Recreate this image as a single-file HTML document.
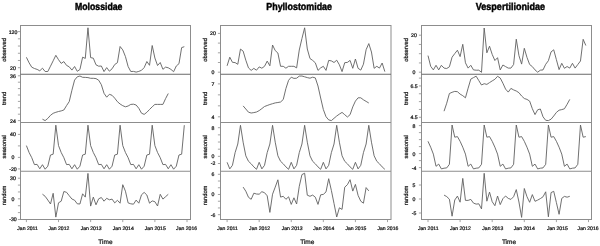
<!DOCTYPE html>
<html><head><meta charset="utf-8"><style>
html,body{margin:0;padding:0;background:#fff;}
svg{display:block;will-change:transform;}
text{font-family:"Liberation Sans", sans-serif;text-rendering:geometricPrecision;}
.s{stroke:#111;stroke-width:0.22px;}
</style></head><body>
<svg width="600" height="246" viewBox="0 0 600 246">
<rect width="600" height="246" fill="#fff"/>
<text x="75.0" y="10" font-weight="bold" font-size="10.2" stroke="#000" stroke-width="0.45" textLength="47.4" lengthAdjust="spacingAndGlyphs" fill="#000">Molossidae</text>
<polyline points="26.40,57.30 29.08,62.80 31.75,67.20 34.43,68.50 37.11,69.40 39.78,70.80 42.46,68.20 45.14,71.50 47.81,71.50 50.49,66.20 53.17,60.80 55.84,55.30 58.52,59.70 61.20,63.40 63.87,61.60 66.55,65.40 69.23,66.80 71.90,70.10 74.58,66.50 77.26,71.30 79.93,69.50 82.61,57.20 85.29,58.40 87.96,27.80 90.64,57.60 93.32,58.20 95.99,64.80 98.67,66.20 101.35,66.00 104.02,71.60 106.70,67.60 109.38,71.20 112.05,68.80 114.73,64.50 117.41,62.70 120.08,46.50 122.76,49.90 125.44,56.60 128.11,66.50 130.79,71.50 133.47,71.40 136.14,72.10 138.82,71.40 141.50,70.30 144.17,67.60 146.85,61.50 149.53,65.30 152.20,45.50 154.88,58.00 157.56,65.50 160.23,62.50 162.91,69.30 165.59,67.10 168.26,67.80 170.94,69.40 173.62,71.70 176.29,66.00 178.97,63.70 181.65,47.60 184.32,46.70" fill="none" stroke="#606060" stroke-width="0.9" stroke-linejoin="round"/>
<polyline points="42.46,119.20 45.14,120.60 47.81,118.40 50.49,115.30 53.17,113.30 55.84,112.30 58.52,111.50 61.20,110.90 63.87,110.00 66.55,105.60 69.23,101.60 71.90,90.30 74.58,80.10 77.26,76.80 79.93,76.00 82.61,77.30 85.29,77.40 87.96,77.60 90.64,78.30 93.32,78.30 95.99,78.60 98.67,80.20 101.35,84.70 104.02,93.30 106.70,97.20 109.38,94.30 112.05,95.30 114.73,98.20 117.41,101.70 120.08,104.00 122.76,105.70 125.44,106.80 128.11,106.00 130.79,104.40 133.47,104.20 136.14,105.00 138.82,108.30 141.50,113.20 144.17,114.40 146.85,112.30 149.53,109.50 152.20,106.80 154.88,104.40 157.56,104.40 160.23,104.40 162.91,104.40 165.59,98.60 168.26,93.50" fill="none" stroke="#606060" stroke-width="0.9" stroke-linejoin="round"/>
<polyline points="26.40,145.60 29.08,152.50 31.75,157.70 34.43,164.60 37.11,164.40 39.78,168.80 42.46,164.70 45.14,169.20 47.81,166.20 50.49,155.00 53.17,154.20 55.84,125.20 58.52,145.60 61.20,152.50 63.87,157.70 66.55,164.60 69.23,164.40 71.90,168.80 74.58,164.70 77.26,169.20 79.93,166.20 82.61,155.00 85.29,154.20 87.96,125.20 90.64,145.60 93.32,152.50 95.99,157.70 98.67,164.60 101.35,164.40 104.02,168.80 106.70,164.70 109.38,169.20 112.05,166.20 114.73,155.00 117.41,154.20 120.08,125.20 122.76,145.60 125.44,152.50 128.11,157.70 130.79,164.60 133.47,164.40 136.14,168.80 138.82,164.70 141.50,169.20 144.17,166.20 146.85,155.00 149.53,154.20 152.20,125.20 154.88,145.60 157.56,152.50 160.23,157.70 162.91,164.60 165.59,164.40 168.26,168.80 170.94,164.70 173.62,169.20 176.29,166.20 178.97,155.00 181.65,154.20 184.32,125.20" fill="none" stroke="#606060" stroke-width="0.9" stroke-linejoin="round"/>
<polyline points="42.46,194.20 45.14,196.30 47.81,200.00 50.49,204.00 53.17,193.30 55.84,217.10 58.52,202.80 61.20,201.20 63.87,191.50 66.55,192.30 69.23,195.70 71.90,199.00 74.58,200.20 77.26,203.80 79.93,204.00 82.61,193.80 85.29,197.10 87.96,173.40 90.64,206.10 93.32,197.10 95.99,204.80 98.67,198.80 101.35,197.50 104.02,201.20 106.70,198.30 109.38,199.80 112.05,199.10 114.73,202.90 117.41,200.30 120.08,203.20 122.76,184.70 125.44,191.20 128.11,202.90 130.79,203.80 133.47,204.20 136.14,200.10 138.82,203.20 141.50,194.80 144.17,192.40 146.85,195.00 149.53,203.20 152.20,200.90 154.88,201.70 157.56,206.00 160.23,194.30 162.91,199.10 165.59,196.70 168.26,194.30" fill="none" stroke="#606060" stroke-width="0.9" stroke-linejoin="round"/>
<rect x="20.5" y="25.5" width="170.00" height="194.00" fill="none" stroke="#8d8d8d" stroke-width="1"/>
<line x1="20.5" x2="190.5" y1="74.25" y2="74.25" stroke="#6a6a6a" stroke-width="1"/>
<line x1="20.5" x2="190.5" y1="122.5" y2="122.5" stroke="#8d8d8d" stroke-width="1"/>
<line x1="20.5" x2="190.5" y1="171.25" y2="171.25" stroke="#8d8d8d" stroke-width="1"/>
<line x1="17.90" x2="20.5" y1="31.60" y2="31.60" stroke="#8d8d8d" stroke-width="0.8"/>
<text x="13.00" y="33.55" class="s" font-size="5.2" text-anchor="middle" fill="#111">120</text>
<line x1="17.90" x2="20.5" y1="38.82" y2="38.82" stroke="#8d8d8d" stroke-width="0.8"/>
<line x1="17.90" x2="20.5" y1="46.04" y2="46.04" stroke="#8d8d8d" stroke-width="0.8"/>
<line x1="17.90" x2="20.5" y1="53.26" y2="53.26" stroke="#8d8d8d" stroke-width="0.8"/>
<line x1="17.90" x2="20.5" y1="60.48" y2="60.48" stroke="#8d8d8d" stroke-width="0.8"/>
<line x1="17.90" x2="20.5" y1="67.70" y2="67.70" stroke="#8d8d8d" stroke-width="0.8"/>
<text x="13.00" y="69.65" class="s" font-size="5.2" text-anchor="middle" fill="#111">20</text>
<text transform="translate(6.30,49.88) rotate(-90)" class="s" font-size="5.8" text-anchor="middle" fill="#111">observed</text>
<line x1="17.90" x2="20.5" y1="75.80" y2="75.80" stroke="#8d8d8d" stroke-width="0.8"/>
<text x="13.00" y="77.75" class="s" font-size="5.2" text-anchor="middle" fill="#111">36</text>
<line x1="17.90" x2="20.5" y1="82.20" y2="82.20" stroke="#8d8d8d" stroke-width="0.8"/>
<line x1="17.90" x2="20.5" y1="88.60" y2="88.60" stroke="#8d8d8d" stroke-width="0.8"/>
<line x1="17.90" x2="20.5" y1="95.00" y2="95.00" stroke="#8d8d8d" stroke-width="0.8"/>
<line x1="17.90" x2="20.5" y1="101.40" y2="101.40" stroke="#8d8d8d" stroke-width="0.8"/>
<line x1="17.90" x2="20.5" y1="107.80" y2="107.80" stroke="#8d8d8d" stroke-width="0.8"/>
<line x1="17.90" x2="20.5" y1="114.20" y2="114.20" stroke="#8d8d8d" stroke-width="0.8"/>
<line x1="17.90" x2="20.5" y1="120.60" y2="120.60" stroke="#8d8d8d" stroke-width="0.8"/>
<text x="13.00" y="122.55" class="s" font-size="5.2" text-anchor="middle" fill="#111">24</text>
<text transform="translate(6.30,98.38) rotate(-90)" class="s" font-size="5.8" text-anchor="middle" fill="#111">trend</text>
<line x1="17.90" x2="20.5" y1="134.40" y2="134.40" stroke="#8d8d8d" stroke-width="0.8"/>
<text x="13.00" y="136.35" class="s" font-size="5.2" text-anchor="middle" fill="#111">40</text>
<line x1="17.90" x2="20.5" y1="145.90" y2="145.90" stroke="#8d8d8d" stroke-width="0.8"/>
<line x1="17.90" x2="20.5" y1="157.40" y2="157.40" stroke="#8d8d8d" stroke-width="0.8"/>
<text x="13.00" y="159.35" class="s" font-size="5.2" text-anchor="middle" fill="#111">0</text>
<line x1="17.90" x2="20.5" y1="168.90" y2="168.90" stroke="#8d8d8d" stroke-width="0.8"/>
<text x="13.00" y="170.85" class="s" font-size="5.2" text-anchor="middle" fill="#111">-20</text>
<text transform="translate(6.30,146.88) rotate(-90)" class="s" font-size="5.8" text-anchor="middle" fill="#111">seasonal</text>
<line x1="17.90" x2="20.5" y1="178.20" y2="178.20" stroke="#8d8d8d" stroke-width="0.8"/>
<text x="13.00" y="180.15" class="s" font-size="5.2" text-anchor="middle" fill="#111">30</text>
<line x1="17.90" x2="20.5" y1="185.08" y2="185.08" stroke="#8d8d8d" stroke-width="0.8"/>
<line x1="17.90" x2="20.5" y1="191.96" y2="191.96" stroke="#8d8d8d" stroke-width="0.8"/>
<line x1="17.90" x2="20.5" y1="198.84" y2="198.84" stroke="#8d8d8d" stroke-width="0.8"/>
<text x="13.00" y="200.79" class="s" font-size="5.2" text-anchor="middle" fill="#111">0</text>
<line x1="17.90" x2="20.5" y1="205.72" y2="205.72" stroke="#8d8d8d" stroke-width="0.8"/>
<line x1="17.90" x2="20.5" y1="212.60" y2="212.60" stroke="#8d8d8d" stroke-width="0.8"/>
<line x1="17.90" x2="20.5" y1="219.48" y2="219.48" stroke="#8d8d8d" stroke-width="0.8"/>
<text x="13.00" y="221.43" class="s" font-size="5.2" text-anchor="middle" fill="#111">-30</text>
<text transform="translate(6.30,195.38) rotate(-90)" class="s" font-size="5.8" text-anchor="middle" fill="#111">random</text>
<line x1="26.40" x2="26.40" y1="219.5" y2="222.1" stroke="#8d8d8d" stroke-width="0.8"/>
<text x="27.60" y="229.9" class="s" font-size="5.1" text-anchor="middle" fill="#111">Jan 2011</text>
<line x1="58.52" x2="58.52" y1="219.5" y2="222.1" stroke="#8d8d8d" stroke-width="0.8"/>
<text x="58.90" y="229.9" class="s" font-size="5.1" text-anchor="middle" fill="#111">Jan 2012</text>
<line x1="90.64" x2="90.64" y1="219.5" y2="222.1" stroke="#8d8d8d" stroke-width="0.8"/>
<text x="91.15" y="229.9" class="s" font-size="5.1" text-anchor="middle" fill="#111">Jan 2013</text>
<line x1="122.76" x2="122.76" y1="219.5" y2="222.1" stroke="#8d8d8d" stroke-width="0.8"/>
<text x="123.30" y="229.9" class="s" font-size="5.1" text-anchor="middle" fill="#111">Jan 2014</text>
<line x1="154.88" x2="154.88" y1="219.5" y2="222.1" stroke="#8d8d8d" stroke-width="0.8"/>
<text x="155.30" y="229.9" class="s" font-size="5.1" text-anchor="middle" fill="#111">Jan 2015</text>
<line x1="187.00" x2="187.00" y1="219.5" y2="222.1" stroke="#8d8d8d" stroke-width="0.8"/>
<text x="186.60" y="229.9" class="s" font-size="5.1" text-anchor="middle" fill="#111">Jan 2016</text>
<text x="105.40" y="244.2" class="s" font-size="6.5" text-anchor="middle" fill="#111">Time</text>
<text x="266.3" y="10" font-weight="bold" font-size="10.2" stroke="#000" stroke-width="0.45" textLength="65.7" lengthAdjust="spacingAndGlyphs" fill="#000">Phyllostomidae</text>
<polyline points="227.10,65.80 229.77,57.20 232.45,62.30 235.12,62.60 237.79,64.30 240.47,49.10 243.14,51.10 245.81,60.20 248.49,67.90 251.16,70.40 253.83,68.40 256.51,70.20 259.18,66.90 261.85,68.20 264.53,66.30 267.20,61.10 269.87,65.80 272.55,45.00 275.22,50.60 277.89,53.00 280.57,66.30 283.24,66.30 285.91,68.20 288.59,66.30 291.26,66.30 293.93,66.30 296.61,67.90 299.28,50.00 301.95,38.50 304.63,27.80 307.30,49.00 309.97,58.50 312.65,60.40 315.32,62.80 317.99,70.40 320.67,67.90 323.34,66.30 326.01,70.40 328.69,60.40 331.36,60.90 334.03,62.50 336.71,60.20 339.38,64.80 342.05,71.60 344.73,62.70 347.40,62.40 350.07,60.40 352.75,68.30 355.42,59.00 358.09,68.30 360.77,70.10 363.44,64.20 366.11,49.70 368.79,43.60 371.46,52.00 374.13,68.30 376.81,66.30 379.48,68.10 382.15,63.00 384.83,71.60" fill="none" stroke="#606060" stroke-width="0.9" stroke-linejoin="round"/>
<polyline points="243.14,105.90 245.81,109.00 248.49,112.20 251.16,113.00 253.83,112.60 256.51,112.00 259.18,110.60 261.85,108.60 264.53,106.50 267.20,105.50 269.87,104.50 272.55,103.70 275.22,102.90 277.89,102.50 280.57,102.00 283.24,99.50 285.91,88.50 288.59,80.30 291.26,77.20 293.93,78.40 296.61,78.20 299.28,76.10 301.95,76.00 304.63,76.80 307.30,77.60 309.97,78.20 312.65,77.20 315.32,77.90 317.99,86.00 320.67,98.00 323.34,109.50 326.01,116.70 328.69,119.90 331.36,120.60 334.03,118.30 336.71,116.00 339.38,114.10 342.05,112.40 344.73,114.70 347.40,117.00 350.07,114.70 352.75,106.90 355.42,101.10 358.09,97.80 360.77,97.80 363.44,99.80 366.11,101.40 368.79,103.00" fill="none" stroke="#606060" stroke-width="0.9" stroke-linejoin="round"/>
<polyline points="227.10,162.30 229.77,168.90 232.45,165.30 235.12,152.60 237.79,144.00 240.47,125.30 243.14,142.20 245.81,155.80 248.49,161.30 251.16,163.80 253.83,166.90 256.51,169.30 259.18,162.30 261.85,168.90 264.53,165.30 267.20,152.60 269.87,144.00 272.55,125.30 275.22,142.20 277.89,155.80 280.57,161.30 283.24,163.80 285.91,166.90 288.59,169.30 291.26,162.30 293.93,168.90 296.61,165.30 299.28,152.60 301.95,144.00 304.63,125.30 307.30,142.20 309.97,155.80 312.65,161.30 315.32,163.80 317.99,166.90 320.67,169.30 323.34,162.30 326.01,168.90 328.69,165.30 331.36,152.60 334.03,144.00 336.71,125.30 339.38,142.20 342.05,155.80 344.73,161.30 347.40,163.80 350.07,166.90 352.75,169.30 355.42,162.30 358.09,168.90 360.77,165.30 363.44,152.60 366.11,144.00 368.79,125.30 371.46,142.20 374.13,155.80 376.81,161.30 379.48,163.80 382.15,166.90 384.83,169.30" fill="none" stroke="#606060" stroke-width="0.9" stroke-linejoin="round"/>
<polyline points="243.14,187.10 245.81,191.20 248.49,197.30 251.16,199.30 253.83,193.20 256.51,194.00 259.18,194.20 261.85,191.70 264.53,192.70 267.20,195.80 269.87,212.40 272.55,194.20 275.22,187.10 277.89,179.80 280.57,197.10 283.24,196.30 285.91,199.30 288.59,196.80 291.26,204.40 293.93,197.80 296.61,204.00 299.28,186.30 301.95,174.60 304.63,173.20 307.30,195.20 309.97,196.30 312.65,195.10 315.32,197.20 317.99,204.40 320.67,194.80 323.34,194.40 326.01,191.90 328.69,178.70 331.36,190.40 334.03,203.50 336.71,217.00 339.38,207.80 342.05,209.40 344.73,187.20 347.40,184.70 350.07,179.70 352.75,191.10 355.42,184.40 358.09,195.40 360.77,201.20 363.44,203.20 366.11,187.60 368.79,190.90" fill="none" stroke="#606060" stroke-width="0.9" stroke-linejoin="round"/>
<rect x="220.5" y="25.5" width="170.50" height="194.00" fill="none" stroke="#8d8d8d" stroke-width="1"/>
<line x1="220.5" x2="391.0" y1="74.25" y2="74.25" stroke="#6a6a6a" stroke-width="1"/>
<line x1="220.5" x2="391.0" y1="122.5" y2="122.5" stroke="#8d8d8d" stroke-width="1"/>
<line x1="220.5" x2="391.0" y1="171.25" y2="171.25" stroke="#8d8d8d" stroke-width="1"/>
<line x1="217.90" x2="220.5" y1="33.40" y2="33.40" stroke="#8d8d8d" stroke-width="0.8"/>
<text x="213.00" y="35.35" class="s" font-size="5.2" text-anchor="middle" fill="#111">20</text>
<line x1="217.90" x2="220.5" y1="43.10" y2="43.10" stroke="#8d8d8d" stroke-width="0.8"/>
<line x1="217.90" x2="220.5" y1="52.80" y2="52.80" stroke="#8d8d8d" stroke-width="0.8"/>
<line x1="217.90" x2="220.5" y1="62.50" y2="62.50" stroke="#8d8d8d" stroke-width="0.8"/>
<line x1="217.90" x2="220.5" y1="72.20" y2="72.20" stroke="#8d8d8d" stroke-width="0.8"/>
<text x="213.00" y="74.15" class="s" font-size="5.2" text-anchor="middle" fill="#111">0</text>
<text transform="translate(206.80,49.88) rotate(-90)" class="s" font-size="5.8" text-anchor="middle" fill="#111">observed</text>
<line x1="217.90" x2="220.5" y1="83.90" y2="83.90" stroke="#8d8d8d" stroke-width="0.8"/>
<text x="213.00" y="85.85" class="s" font-size="5.2" text-anchor="middle" fill="#111">7</text>
<line x1="217.90" x2="220.5" y1="94.87" y2="94.87" stroke="#8d8d8d" stroke-width="0.8"/>
<line x1="217.90" x2="220.5" y1="105.84" y2="105.84" stroke="#8d8d8d" stroke-width="0.8"/>
<line x1="217.90" x2="220.5" y1="116.81" y2="116.81" stroke="#8d8d8d" stroke-width="0.8"/>
<text x="213.00" y="118.76" class="s" font-size="5.2" text-anchor="middle" fill="#111">4</text>
<text transform="translate(206.80,98.38) rotate(-90)" class="s" font-size="5.8" text-anchor="middle" fill="#111">trend</text>
<line x1="217.90" x2="220.5" y1="127.70" y2="127.70" stroke="#8d8d8d" stroke-width="0.8"/>
<text x="213.00" y="129.65" class="s" font-size="5.2" text-anchor="middle" fill="#111">8</text>
<line x1="217.90" x2="220.5" y1="134.86" y2="134.86" stroke="#8d8d8d" stroke-width="0.8"/>
<line x1="217.90" x2="220.5" y1="142.02" y2="142.02" stroke="#8d8d8d" stroke-width="0.8"/>
<line x1="217.90" x2="220.5" y1="149.18" y2="149.18" stroke="#8d8d8d" stroke-width="0.8"/>
<line x1="217.90" x2="220.5" y1="156.34" y2="156.34" stroke="#8d8d8d" stroke-width="0.8"/>
<text x="213.00" y="158.29" class="s" font-size="5.2" text-anchor="middle" fill="#111">0</text>
<line x1="217.90" x2="220.5" y1="163.50" y2="163.50" stroke="#8d8d8d" stroke-width="0.8"/>
<text x="213.00" y="165.45" class="s" font-size="5.2" text-anchor="middle" fill="#111">-2</text>
<text transform="translate(206.80,146.88) rotate(-90)" class="s" font-size="5.8" text-anchor="middle" fill="#111">seasonal</text>
<line x1="217.90" x2="220.5" y1="174.30" y2="174.30" stroke="#8d8d8d" stroke-width="0.8"/>
<text x="213.00" y="176.25" class="s" font-size="5.2" text-anchor="middle" fill="#111">6</text>
<line x1="217.90" x2="220.5" y1="181.03" y2="181.03" stroke="#8d8d8d" stroke-width="0.8"/>
<line x1="217.90" x2="220.5" y1="187.76" y2="187.76" stroke="#8d8d8d" stroke-width="0.8"/>
<line x1="217.90" x2="220.5" y1="194.49" y2="194.49" stroke="#8d8d8d" stroke-width="0.8"/>
<text x="213.00" y="196.44" class="s" font-size="5.2" text-anchor="middle" fill="#111">0</text>
<line x1="217.90" x2="220.5" y1="201.22" y2="201.22" stroke="#8d8d8d" stroke-width="0.8"/>
<line x1="217.90" x2="220.5" y1="207.95" y2="207.95" stroke="#8d8d8d" stroke-width="0.8"/>
<line x1="217.90" x2="220.5" y1="214.68" y2="214.68" stroke="#8d8d8d" stroke-width="0.8"/>
<text x="213.00" y="216.63" class="s" font-size="5.2" text-anchor="middle" fill="#111">-6</text>
<text transform="translate(206.80,195.38) rotate(-90)" class="s" font-size="5.8" text-anchor="middle" fill="#111">random</text>
<line x1="227.10" x2="227.10" y1="219.5" y2="222.1" stroke="#8d8d8d" stroke-width="0.8"/>
<text x="227.50" y="229.9" class="s" font-size="5.1" text-anchor="middle" fill="#111">Jan 2011</text>
<line x1="259.18" x2="259.18" y1="219.5" y2="222.1" stroke="#8d8d8d" stroke-width="0.8"/>
<text x="259.60" y="229.9" class="s" font-size="5.1" text-anchor="middle" fill="#111">Jan 2012</text>
<line x1="291.26" x2="291.26" y1="219.5" y2="222.1" stroke="#8d8d8d" stroke-width="0.8"/>
<text x="292.20" y="229.9" class="s" font-size="5.1" text-anchor="middle" fill="#111">Jan 2013</text>
<line x1="323.34" x2="323.34" y1="219.5" y2="222.1" stroke="#8d8d8d" stroke-width="0.8"/>
<text x="323.80" y="229.9" class="s" font-size="5.1" text-anchor="middle" fill="#111">Jan 2014</text>
<line x1="355.42" x2="355.42" y1="219.5" y2="222.1" stroke="#8d8d8d" stroke-width="0.8"/>
<text x="355.90" y="229.9" class="s" font-size="5.1" text-anchor="middle" fill="#111">Jan 2015</text>
<line x1="387.50" x2="387.50" y1="219.5" y2="222.1" stroke="#8d8d8d" stroke-width="0.8"/>
<text x="387.90" y="229.9" class="s" font-size="5.1" text-anchor="middle" fill="#111">Jan 2016</text>
<text x="307.30" y="244.2" class="s" font-size="6.5" text-anchor="middle" fill="#111">Time</text>
<text x="475.8" y="10" font-weight="bold" font-size="10.2" stroke="#000" stroke-width="0.45" textLength="69.2" lengthAdjust="spacingAndGlyphs" fill="#000">Vespertilionidae</text>
<polyline points="428.00,55.60 430.68,66.30 433.35,69.90 436.02,65.30 438.70,69.90 441.38,65.30 444.05,68.10 446.73,68.50 449.40,66.80 452.07,57.20 454.75,53.60 457.43,50.20 460.10,56.60 462.77,44.30 465.45,62.80 468.12,68.10 470.80,65.30 473.48,69.90 476.15,70.20 478.82,70.20 481.50,72.30 484.18,28.00 486.85,52.80 489.52,46.20 492.20,54.40 494.88,60.50 497.55,57.70 500.23,69.90 502.90,65.00 505.57,66.60 508.25,68.10 510.93,68.10 513.60,64.50 516.27,39.20 518.95,55.60 521.62,64.10 524.30,48.30 526.98,57.40 529.65,64.50 532.33,66.60 535.00,69.90 537.67,72.20 540.35,70.20 543.02,69.90 545.70,64.30 548.38,60.70 551.05,51.90 553.73,49.80 556.40,59.70 559.08,69.60 561.75,63.30 564.42,68.30 567.10,66.50 569.77,68.10 572.45,63.30 575.12,68.10 577.80,64.50 580.48,61.00 583.15,39.30 585.83,45.50" fill="none" stroke="#606060" stroke-width="0.9" stroke-linejoin="round"/>
<polyline points="444.05,111.20 446.73,103.20 449.40,93.50 452.07,92.30 454.75,91.40 457.43,91.70 460.10,94.10 462.77,95.70 465.45,97.80 468.12,88.20 470.80,79.10 473.48,77.60 476.15,76.20 478.82,80.60 481.50,85.00 484.18,83.70 486.85,84.40 489.52,82.60 492.20,80.90 494.88,79.30 497.55,76.30 500.23,78.00 502.90,83.20 505.57,89.10 508.25,92.10 510.93,88.40 513.60,89.90 516.27,91.00 518.95,92.70 521.62,96.00 524.30,98.50 526.98,99.40 529.65,101.10 532.33,108.70 535.00,114.60 537.67,109.80 540.35,109.00 543.02,116.80 545.70,120.30 548.38,120.60 551.05,119.20 553.73,116.00 556.40,112.40 559.08,110.20 561.75,109.60 564.42,108.80 567.10,104.30 569.77,99.40" fill="none" stroke="#606060" stroke-width="0.9" stroke-linejoin="round"/>
<polyline points="428.00,141.30 430.68,147.20 433.35,154.10 436.02,166.30 438.70,164.10 441.38,168.90 444.05,168.20 446.73,167.90 449.40,164.30 452.07,125.00 454.75,137.20 457.43,136.60 460.10,141.30 462.77,147.20 465.45,154.10 468.12,166.30 470.80,164.10 473.48,168.90 476.15,168.20 478.82,167.90 481.50,164.30 484.18,125.00 486.85,137.20 489.52,136.60 492.20,141.30 494.88,147.20 497.55,154.10 500.23,166.30 502.90,164.10 505.57,168.90 508.25,168.20 510.93,167.90 513.60,164.30 516.27,125.00 518.95,137.20 521.62,136.60 524.30,141.30 526.98,147.20 529.65,154.10 532.33,166.30 535.00,164.10 537.67,168.90 540.35,168.20 543.02,167.90 545.70,164.30 548.38,125.00 551.05,137.20 553.73,136.60 556.40,141.30 559.08,147.20 561.75,154.10 564.42,166.30 567.10,164.10 569.77,168.90 572.45,168.20 575.12,167.90 577.80,164.30 580.48,125.00 583.15,137.20 585.83,136.60" fill="none" stroke="#606060" stroke-width="0.9" stroke-linejoin="round"/>
<polyline points="444.05,195.10 446.73,196.60 449.40,199.20 452.07,216.20 454.75,200.00 457.43,196.10 460.10,202.20 462.77,178.40 465.45,200.40 468.12,200.40 470.80,199.40 473.48,203.10 476.15,204.10 478.82,203.80 481.50,208.90 484.18,173.30 486.85,201.20 489.52,192.10 492.20,201.70 494.88,205.70 497.55,196.00 500.23,204.60 502.90,198.70 505.57,196.00 508.25,198.40 510.93,199.40 513.60,196.70 516.27,189.60 518.95,202.00 521.62,217.40 524.30,188.50 526.98,196.70 529.65,202.30 532.33,194.60 535.00,201.30 537.67,200.10 540.35,198.60 543.02,196.80 545.70,191.80 548.38,216.80 551.05,192.60 553.73,191.30 556.40,202.60 559.08,214.30 561.75,198.40 564.42,196.40 567.10,197.20 569.77,196.30" fill="none" stroke="#606060" stroke-width="0.9" stroke-linejoin="round"/>
<rect x="421.5" y="25.5" width="170.00" height="194.00" fill="none" stroke="#8d8d8d" stroke-width="1"/>
<line x1="421.5" x2="591.5" y1="74.25" y2="74.25" stroke="#6a6a6a" stroke-width="1"/>
<line x1="421.5" x2="591.5" y1="122.5" y2="122.5" stroke="#8d8d8d" stroke-width="1"/>
<line x1="421.5" x2="591.5" y1="171.25" y2="171.25" stroke="#8d8d8d" stroke-width="1"/>
<line x1="418.90" x2="421.5" y1="35.20" y2="35.20" stroke="#8d8d8d" stroke-width="0.8"/>
<text x="414.00" y="37.15" class="s" font-size="5.2" text-anchor="middle" fill="#111">20</text>
<line x1="418.90" x2="421.5" y1="44.45" y2="44.45" stroke="#8d8d8d" stroke-width="0.8"/>
<line x1="418.90" x2="421.5" y1="53.70" y2="53.70" stroke="#8d8d8d" stroke-width="0.8"/>
<line x1="418.90" x2="421.5" y1="62.95" y2="62.95" stroke="#8d8d8d" stroke-width="0.8"/>
<line x1="418.90" x2="421.5" y1="72.20" y2="72.20" stroke="#8d8d8d" stroke-width="0.8"/>
<text x="414.00" y="74.15" class="s" font-size="5.2" text-anchor="middle" fill="#111">0</text>
<text transform="translate(407.80,49.88) rotate(-90)" class="s" font-size="5.8" text-anchor="middle" fill="#111">observed</text>
<line x1="418.90" x2="421.5" y1="78.10" y2="78.10" stroke="#8d8d8d" stroke-width="0.8"/>
<line x1="418.90" x2="421.5" y1="85.94" y2="85.94" stroke="#8d8d8d" stroke-width="0.8"/>
<text x="414.00" y="87.89" class="s" font-size="5.2" text-anchor="middle" fill="#111">6.5</text>
<line x1="418.90" x2="421.5" y1="93.78" y2="93.78" stroke="#8d8d8d" stroke-width="0.8"/>
<line x1="418.90" x2="421.5" y1="101.62" y2="101.62" stroke="#8d8d8d" stroke-width="0.8"/>
<line x1="418.90" x2="421.5" y1="109.46" y2="109.46" stroke="#8d8d8d" stroke-width="0.8"/>
<line x1="418.90" x2="421.5" y1="117.30" y2="117.30" stroke="#8d8d8d" stroke-width="0.8"/>
<text x="414.00" y="119.25" class="s" font-size="5.2" text-anchor="middle" fill="#111">4.5</text>
<text transform="translate(407.80,98.38) rotate(-90)" class="s" font-size="5.8" text-anchor="middle" fill="#111">trend</text>
<line x1="418.90" x2="421.5" y1="125.60" y2="125.60" stroke="#8d8d8d" stroke-width="0.8"/>
<text x="414.00" y="127.55" class="s" font-size="5.2" text-anchor="middle" fill="#111">8</text>
<line x1="418.90" x2="421.5" y1="132.60" y2="132.60" stroke="#8d8d8d" stroke-width="0.8"/>
<line x1="418.90" x2="421.5" y1="139.60" y2="139.60" stroke="#8d8d8d" stroke-width="0.8"/>
<line x1="418.90" x2="421.5" y1="146.60" y2="146.60" stroke="#8d8d8d" stroke-width="0.8"/>
<line x1="418.90" x2="421.5" y1="153.60" y2="153.60" stroke="#8d8d8d" stroke-width="0.8"/>
<text x="414.00" y="155.55" class="s" font-size="5.2" text-anchor="middle" fill="#111">0</text>
<line x1="418.90" x2="421.5" y1="160.60" y2="160.60" stroke="#8d8d8d" stroke-width="0.8"/>
<line x1="418.90" x2="421.5" y1="167.60" y2="167.60" stroke="#8d8d8d" stroke-width="0.8"/>
<text x="414.00" y="169.55" class="s" font-size="5.2" text-anchor="middle" fill="#111">-4</text>
<text transform="translate(407.80,146.88) rotate(-90)" class="s" font-size="5.8" text-anchor="middle" fill="#111">seasonal</text>
<line x1="418.90" x2="421.5" y1="185.00" y2="185.00" stroke="#8d8d8d" stroke-width="0.8"/>
<text x="414.00" y="186.95" class="s" font-size="5.2" text-anchor="middle" fill="#111">5</text>
<line x1="418.90" x2="421.5" y1="199.00" y2="199.00" stroke="#8d8d8d" stroke-width="0.8"/>
<text x="414.00" y="200.95" class="s" font-size="5.2" text-anchor="middle" fill="#111">0</text>
<line x1="418.90" x2="421.5" y1="213.00" y2="213.00" stroke="#8d8d8d" stroke-width="0.8"/>
<text x="414.00" y="214.95" class="s" font-size="5.2" text-anchor="middle" fill="#111">-5</text>
<text transform="translate(407.80,195.38) rotate(-90)" class="s" font-size="5.8" text-anchor="middle" fill="#111">random</text>
<line x1="428.00" x2="428.00" y1="219.5" y2="222.1" stroke="#8d8d8d" stroke-width="0.8"/>
<text x="428.25" y="229.9" class="s" font-size="5.1" text-anchor="middle" fill="#111">Jan 2011</text>
<line x1="460.10" x2="460.10" y1="219.5" y2="222.1" stroke="#8d8d8d" stroke-width="0.8"/>
<text x="460.40" y="229.9" class="s" font-size="5.1" text-anchor="middle" fill="#111">Jan 2012</text>
<line x1="492.20" x2="492.20" y1="219.5" y2="222.1" stroke="#8d8d8d" stroke-width="0.8"/>
<text x="492.75" y="229.9" class="s" font-size="5.1" text-anchor="middle" fill="#111">Jan 2013</text>
<line x1="524.30" x2="524.30" y1="219.5" y2="222.1" stroke="#8d8d8d" stroke-width="0.8"/>
<text x="524.25" y="229.9" class="s" font-size="5.1" text-anchor="middle" fill="#111">Jan 2014</text>
<line x1="556.40" x2="556.40" y1="219.5" y2="222.1" stroke="#8d8d8d" stroke-width="0.8"/>
<text x="557.40" y="229.9" class="s" font-size="5.1" text-anchor="middle" fill="#111">Jan 2015</text>
<line x1="588.50" x2="588.50" y1="219.5" y2="222.1" stroke="#8d8d8d" stroke-width="0.8"/>
<text x="588.10" y="229.9" class="s" font-size="5.1" text-anchor="middle" fill="#111">Jan 2016</text>
<text x="509.00" y="244.2" class="s" font-size="6.5" text-anchor="middle" fill="#111">Time</text>
</svg>
</body></html>
